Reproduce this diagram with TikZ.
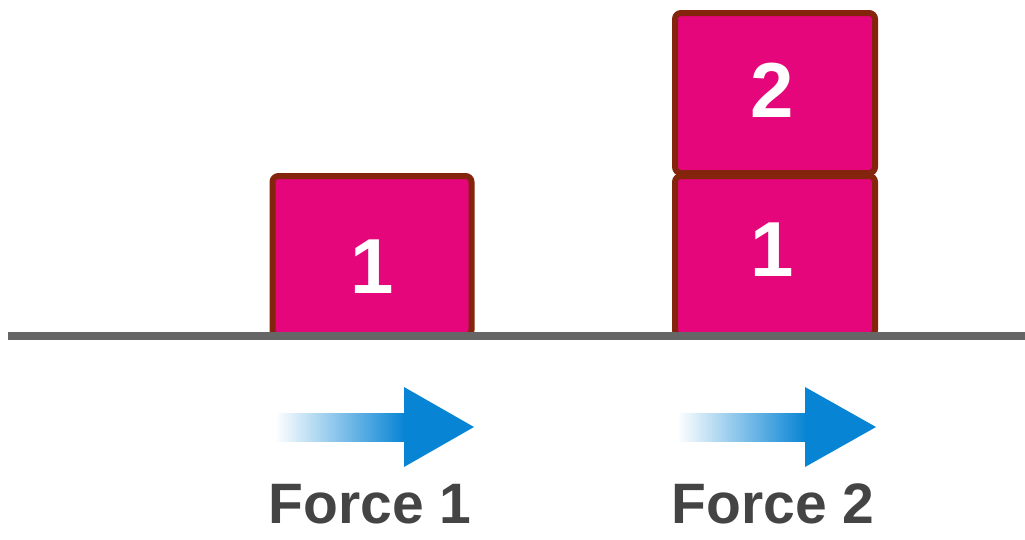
\documentclass[tikz,border=0pt]{standalone}
\usepackage{fontspec}
\setmainfont{Liberation Sans}
\definecolor{boxfill}{HTML}{E4067A}
\definecolor{boxedge}{HTML}{85240C}
\definecolor{ground}{HTML}{666666}
\definecolor{arrowblue}{HTML}{0784D4}
\definecolor{labelgray}{HTML}{444444}
\tikzset{
  block/.style={draw=boxedge, fill=boxfill, line width=6pt, rounded corners=6pt, inner sep=0pt},
  digit/.style={text=white, font=\fontsize{78}{78}\selectfont\bfseries, inner sep=0pt, anchor=base},
  forcelabel/.style={text=labelgray, font=\fontsize{57}{57}\selectfont\bfseries, inner sep=0pt, anchor=base}
}
\begin{document}
\begin{tikzpicture}[x=1pt,y=-1pt]
\useasboundingbox (0,0) rectangle (1025,539);
% boxes
\node[block, minimum width=199pt, minimum height=160pt] (b1) at (372,256) {};
\node[digit] (n1) at (372,293) {1};
\node[block, minimum width=200pt, minimum height=160pt] (b1r) at (775,256) {};
\node[digit] (n1r) at (772,276) {1};
\node[block, minimum width=200pt, minimum height=160pt] (b2) at (775,93) {};
\node[digit] (n2) at (772,117) {2};
% ground
\draw[ground, line width=8pt] (8,336) -- (1025,336);
% arrows
\shade[left color=white, right color=arrowblue, draw=none] (275,413) rectangle (405,441);
\fill[arrowblue] (404,387) -- (474,427) -- (404,467) -- cycle;
\shade[left color=white, right color=arrowblue, draw=none] (677,413) rectangle (806,441);
\fill[arrowblue] (805,387) -- (876,427) -- (805,467) -- cycle;
% labels
\node[forcelabel] (f1) at (370,523) {Force 1};
\node[forcelabel] (f2) at (773,523) {Force 2};
\end{tikzpicture}
\end{document}
